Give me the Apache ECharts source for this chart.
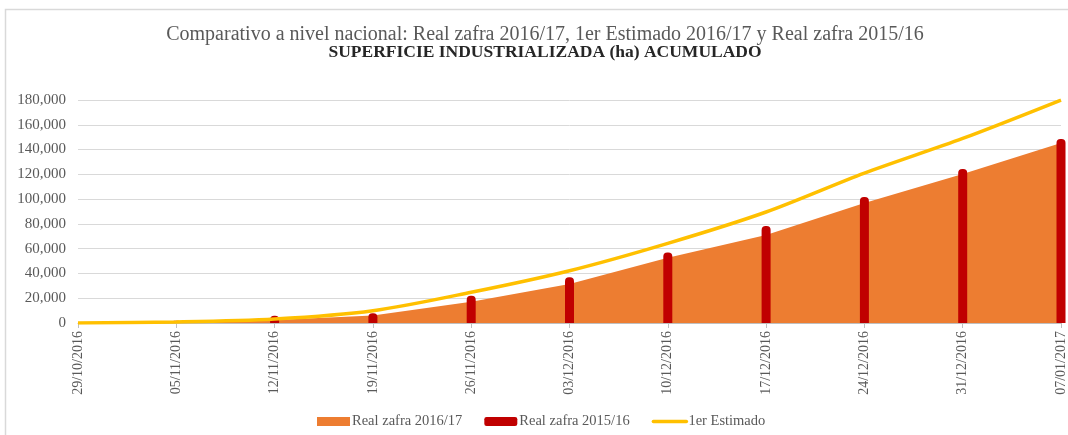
<!DOCTYPE html>
<html>
<head>
<meta charset="utf-8">
<script src="https://cdn.jsdelivr.net/npm/echarts@6/dist/echarts.min.js"></script>
<style>html,body{margin:0;padding:0;background:#fff;}#c{width:1068px;height:435px;}</style>
</head>
<body>
<div id="c"></div>
<script>
var categories = ['29/10/2016','05/11/2016','12/11/2016','19/11/2016','26/11/2016','03/12/2016','10/12/2016','17/12/2016','24/12/2016','31/12/2016','07/01/2017'];
var real1617 = [0, 500, 2500, 6000, 17200, 31500, 52700, 71000, 96900, 120300, 145300];
var real1516 = [0, 1900, 5900, 7800, 22000, 36900, 57000, 78300, 101700, 124300, 148500];
var estimado = [0, 800, 3200, 9900, 24800, 42200, 64300, 89600, 121000, 149000, 180000];
var yTicks = [0, 20000, 40000, 60000, 80000, 100000, 120000, 140000, 160000, 180000];

var font = '"Liberation Serif", "Times New Roman", serif';
var chart = echarts.init(document.getElementById('c'), null, {renderer: 'canvas'});
chart.setOption({
  animation: false,
  backgroundColor: '#ffffff',
  textStyle: {fontFamily: font},
  graphic: [{
    type: 'rect', silent: true, z: -1,
    shape: {x: 5.5, y: 9.5, width: 1200, height: 600},
    style: {fill: 'none', stroke: '#D9D9D9', lineWidth: 1.5}
  }],
  title: {
    text: 'Comparativo a nivel nacional: Real zafra 2016/17, 1er Estimado 2016/17 y Real zafra 2015/16',
    subtext: 'SUPERFICIE INDUSTRIALIZADA (ha) ACUMULADO',
    left: 540, textAlign: 'center', top: 20, itemGap: -2,
    textStyle: {fontFamily: font, fontSize: 20, fontWeight: 'normal', color: '#595959'},
    subtextStyle: {fontFamily: font, fontSize: 17.5, fontWeight: 'bold', color: '#262626'}
  },
  legend: {
    left: 312, top: 409, itemWidth: 33, itemHeight: 9, itemGap: 22,
    textStyle: {fontFamily: font, fontSize: 14.5, color: '#595959', padding: [0, 0, 0, -3]},
    data: [
      {name: 'Real zafra 2016/17', icon: 'rect'},
      {name: 'Real zafra 2015/16', icon: 'roundRect'},
      {name: '1er Estimado', itemStyle: {opacity: 0}, lineStyle: {width: 3.5, color: '#FFC000', cap: 'round'}}
    ]
  },
  grid: {left: 78, right: 5, top: 100, bottom: 112, containLabel: false},
  xAxis: {
    type: 'category', data: categories, boundaryGap: false,
    axisLine: {lineStyle: {color: '#BFBFBF', width: 1}},
    axisTick: {show: true, length: 5, alignWithLabel: true, lineStyle: {color: '#BFBFBF'}},
    axisLabel: {rotate: 90, margin: 8, interval: 0, fontFamily: font, fontSize: 14, color: '#595959'},
    splitLine: {show: false}
  },
  yAxis: {
    type: 'value', min: 0, max: 180000, interval: 20000,
    axisLine: {show: false}, axisTick: {show: false},
    axisLabel: {margin: 12, fontFamily: font, fontSize: 15, color: '#595959',
      formatter: function (v) { return yTicks.indexOf(v) >= 0 ? v.toLocaleString('en-US') : ''; }},
    splitLine: {lineStyle: {color: '#D9D9D9', width: 1}}
  },
  series: [
    {
      name: 'Real zafra 2016/17', type: 'line', data: real1617,
      symbol: 'none', lineStyle: {width: 0}, itemStyle: {color: '#ED7D31'},
      areaStyle: {color: '#ED7D31', opacity: 1}, z: 1
    },
    {
      name: 'Real zafra 2015/16', type: 'bar', data: real1516, barWidth: 9,
      itemStyle: {color: '#C00000', borderRadius: [4, 4, 0, 0]}, z: 2
    },
    {
      name: '1er Estimado', type: 'line', data: estimado, smooth: 0.3,
      symbol: 'none', lineStyle: {width: 3.5, color: '#FFC000'}, itemStyle: {color: '#FFC000'}, z: 3
    }
  ]
});
</script>
</body>
</html>
